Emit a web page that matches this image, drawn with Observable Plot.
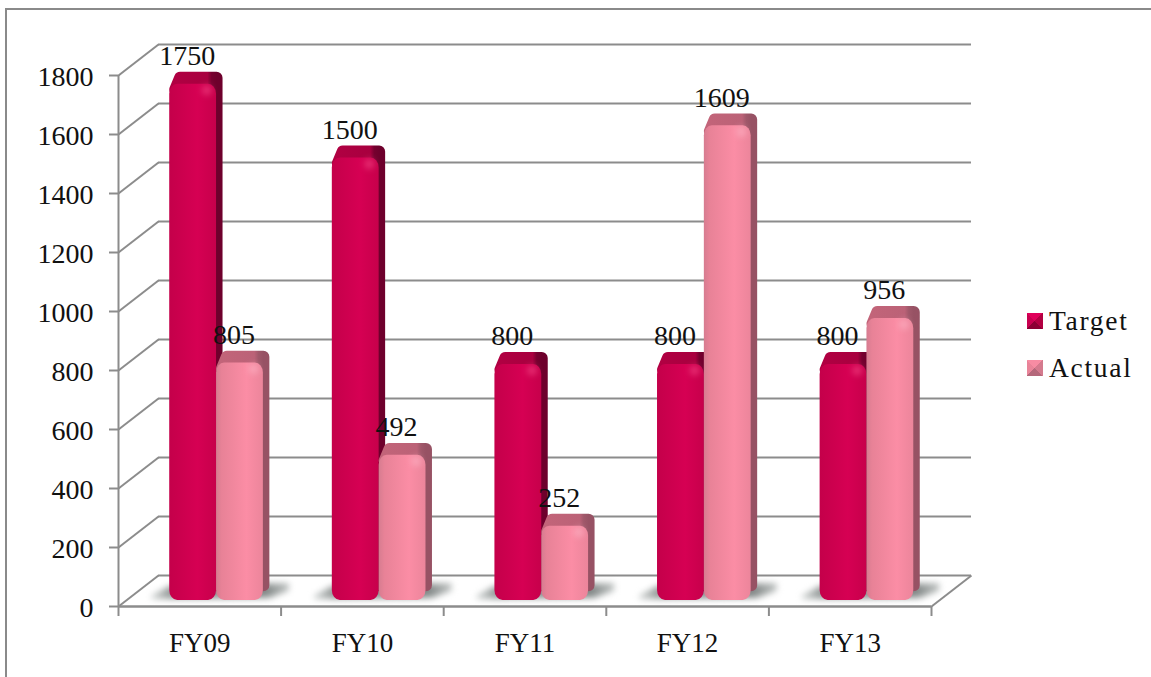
<!DOCTYPE html>
<html>
<head>
<meta charset="utf-8">
<script src="https://cdn.jsdelivr.net/npm/d3@7"></script>
<script src="https://cdn.jsdelivr.net/npm/@observablehq/plot@0.6"></script>
<style>
  html, body { margin: 0; padding: 0; background: #fff; }
  #frame { position: relative; width: 1151px; height: 677px; overflow: hidden; }
  #frame::before { content: ""; position: absolute; left: 5px; top: 8px; width: 2000px; height: 2000px;
    border: 2px solid #8a8a8a; box-sizing: border-box; }
  #frame svg { position: absolute; left: 0; top: 0; }
  #legend { position: absolute; left: 1027px; top: 297px; font: 27.5px "Liberation Serif", serif;
    letter-spacing: 1.7px; color: #111; }
  .entry { display: flex; align-items: center; height: 47px; }
  .swatch { width: 16px; height: 16px; margin-right: 6px; }
</style>
</head>
<body>
<div id="frame">
  <div id="legend"></div>
</div>
<script>
const categories = ["FY09", "FY10", "FY11", "FY12", "FY13"];
const target = [1750, 1500, 800, 800, 800];
const actual = [805, 492, 252, 1609, 956];
const yTicks = [0, 200, 400, 600, 800, 1000, 1200, 1400, 1600, 1800];
const seriesNames = ["Target", "Actual"];

// Perspective of the box, in data units: how far the back wall sits from the front plane.
const wallX = 0.246;
const wallY = 105;
// Bar layout inside a category band, in band units.
const barStart = 0.315;
const barWidth = 0.288;
const barDepthX = 0.04;
const barTopRise = 40;
const barSideDrop = 30;
// Radius of the rounded stroke on the bar's back faces, in band and value units.
const cornerX = 0.037;
const cornerY = 20;
const grey = "#8c8c8c";
const ink = "#111";
const fontFamily = "Liberation Serif, serif";

const rows = categories.flatMap((category, i) => [
  {category, series: "Target", value: target[i], x1: i + barStart, x2: i + barStart + barWidth},
  {category, series: "Actual", value: actual[i], x1: i + barStart + barWidth, x2: i + barStart + 2 * barWidth}
]);

// Floor shadow outline for each pair of bars.
const shadow = categories.flatMap((category, i) => {
  const left = i + barStart, right = left + 2 * barWidth + barDepthX;
  return [
    {category, x: left - 0.11, y1: 24, y2: 36},
    {category, x: left, y1: 24, y2: 68},
    {category, x: right, y1: 28, y2: 76},
    {category, x: right + 0.12, y1: 52, y2: 78}
  ];
});

// Top and side faces of each bar as one outline; the rounded stroke softens its corners.
const backFace = (d) => {
  const top = d.value + barTopRise - cornerY;
  const right = d.x2 + barDepthX - cornerX;
  const bottom = barSideDrop + cornerY;
  return [
    {key: d.category, x: d.x1 + cornerX, y1: d.value - cornerY, y2: d.value - cornerY},
    {key: d.category, x: d.x1 + cornerX + 0.03, y1: d.value - cornerY, y2: top},
    {key: d.category, x: right, y1: bottom, y2: top}
  ];
};

// Gradients for the bar faces and the floor shadow.
const gradient = (id, stops) => `<linearGradient id="${id}">` +
  stops.map(([o, c]) => `<stop offset="${o}" stop-color="${c}"/>`).join("") + `</linearGradient>`;
const defs = () => {
  const g = document.createElementNS("http://www.w3.org/2000/svg", "defs");
  g.innerHTML =
    gradient("targetFront", [[0, "#c4004a"], [0.6, "#d60053"], [1, "#c7004b"]]) +
    gradient("targetBack", [[0, "#b00042"], [0.78, "#a8003f"], [0.88, "#76002f"], [1, "#6e002c"]]) +
    gradient("actualFront", [[0, "#d67c90"], [0.12, "#e88297"], [0.65, "#fb8da5"], [1, "#ec859b"]]) +
    gradient("actualBack", [[0, "#c26479"], [0.78, "#bb6277"], [0.88, "#a0586a"], [1, "#975264"]]) +
    gradient("floorShadow", [[0, "#d4d8d7"], [0.14, "#959a99"], [0.82, "#7f8584"], [1, "#c0c4c3"]]);
  return g;
};

const barLayer = (series, front, back, highlight) => {
  const data = rows.filter((d) => d.series === series);
  return [
    Plot.areaY(data.flatMap(backFace), {x: "x", y1: "y1", y2: "y2", z: "key", curve: "linear",
      dy: -6, fill: `url(#${back})`, stroke: `url(#${back})`, strokeWidth: 12, strokeLinejoin: "round"}),
    // rounded front face
    Plot.rect(data, {x1: "x1", x2: "x2", y1: () => 0, y2: "value",
      dy: -6, fill: `url(#${front})`, rx: 8, ry: 10}),
    // small sheen near the top corner
    Plot.dot(data, {x: (d) => d.x2 - 0.06, y: "value", r: 5, fill: highlight,
      fillOpacity: 0.5, imageFilter: "blur(3px)"})
  ];
};

const valueLabels = Plot.text(rows, {
  x: (d) => (d.x1 + d.x2) / 2,
  y: "value",
  text: (d) => String(d.value),
  dx: -6,
  dy: -34,
  fontSize: 28,
  fontFamily,
  fill: ink,
  style: {letterSpacing: "0.4px"}
});

const chart = Plot.plot({
  width: 1151,
  height: 677,
  marginLeft: 118,
  marginRight: 220,
  marginTop: 75,
  marginBottom: 71,
  style: {background: "transparent", overflow: "visible"},
  x: {domain: [0, categories.length]},
  y: {domain: [0, 1800]},
  marks: [
    defs,
    // back wall gridlines and the slanted side wall lines joining them to the front axis
    Plot.ruleY(yTicks, {y: (d) => d + wallY, x1: wallX, x2: categories.length + wallX, stroke: grey, strokeWidth: 2}),
    Plot.link(yTicks, {x1: 0, y1: (d) => d, x2: wallX, y2: (d) => d + wallY, stroke: grey, strokeWidth: 2}),
    Plot.link([0], {x1: categories.length, y1: (d) => d, x2: categories.length + wallX, y2: (d) => d + wallY, stroke: grey, strokeWidth: 2}),
    Plot.ruleX([0], {y1: 0, y2: 1800, stroke: grey, strokeWidth: 2}),
    Plot.ruleY([0], {x1: 0, x2: categories.length, stroke: grey, strokeWidth: 2.5}),
    // axis tick marks and labels
    Plot.axisY({ticks: yTicks, label: null, tickSize: 9, fill: "none", stroke: grey, strokeWidth: 2}),
    Plot.axisY({ticks: yTicks, label: null, tickSize: 0, tickPadding: 25, dy: 2, tickFormat: "d",
      fontSize: 28, fontFamily, fill: ink, style: {letterSpacing: "0.4px"}}),
    Plot.axisX({ticks: d3.range(categories.length + 1), label: null, tickSize: 10, fill: "none", stroke: grey, strokeWidth: 2}),
    Plot.text(categories, {x: (d, i) => i + 0.5, y: () => 0, dy: 37, text: (d) => d,
      fontSize: 27, fontFamily, fill: ink, style: {letterSpacing: "1.2px"}}),
    // floor shadows
    Plot.areaY(shadow, {x: "x", y1: "y1", y2: "y2", z: "category", curve: "linear",
      fill: "url(#floorShadow)", imageFilter: "blur(3px)"}),
    // bars
    ...barLayer("Target", "targetFront", "targetBack", "#ff5a96"),
    ...barLayer("Actual", "actualFront", "actualBack", "#ffc0cf"),
    valueLabels
  ]
});

const frame = document.getElementById("frame");
frame.insertBefore(chart, frame.firstChild);

// Legend entries with notched swatches.
const swatchFills = {
  Target: "conic-gradient(from 45deg, #b30042 0 25%, #8c0034 25% 50%, #c90050 50% 75%, #e0005a 75%)",
  Actual: "conic-gradient(from 45deg, #d47a8e 0 25%, #b5687b 25% 50%, #e98499 50% 75%, #f78ca3 75%)"
};
const legend = document.getElementById("legend");
seriesNames.forEach((name) => {
  const entry = document.createElement("div");
  entry.className = "entry";
  const swatch = document.createElement("div");
  swatch.className = "swatch";
  swatch.style.background = swatchFills[name];
  const label = document.createElement("span");
  label.textContent = name;
  entry.append(swatch, label);
  legend.append(entry);
});
</script>
</body>
</html>
